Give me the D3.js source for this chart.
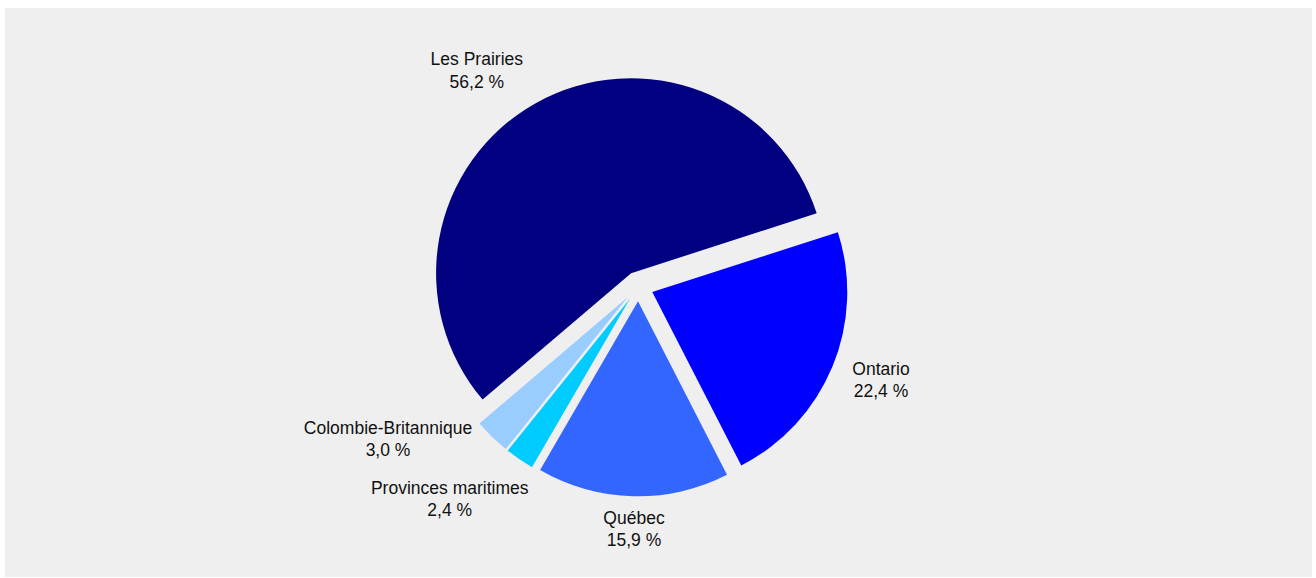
<!DOCTYPE html>
<html lang="fr">
<head>
    <meta charset="UTF-8">
    <title>Répartition par région</title>
    <script src="https://d3js.org/d3.v7.min.js"></script>
    <style>
        body { margin: 0; background: #ffffff; font-family: "Liberation Sans", Arial, sans-serif; }
        svg { display: block; }
        .label { font-size: 17.5px; fill: #111111; }
    </style>
</head>
<body>
    <div id="chart"></div>

    <script>
        // Data (clockwise order, starting with Les Prairies)
        const regions = ["Les Prairies", "Ontario", "Québec", "Provinces maritimes", "Colombie-Britannique"];
        const shares = [56.2, 22.4, 15.9, 2.4, 3.0];
        const shareLabels = ["56,2 %", "22,4 %", "15,9 %", "2,4 %", "3,0 %"];
        const colors = ["#000080", "#0000ff", "#3366ff", "#00ccff", "#99ccff"];

        // Layout
        const width = 1316, height = 578;
        const cx = 638.4, cy = 286.3;
        const radius = 195;
        const explode = 15;
        const startDeg = -130.4;

        // label anchors relative to the pie centre (centre x, first baseline)
        const labelOffsets = [
            [-161.6, -221.3],
            [242.6, 88.7],
            [-4.4, 237.7],
            [-188.7, 207.7],
            [-250.4, 147.7]
        ];

        const svg = d3.select("#chart")
            .append("svg")
            .attr("width", width)
            .attr("height", height);

        // grey plot area
        svg.append("rect")
            .attr("x", 5)
            .attr("y", 8)
            .attr("width", 1307)
            .attr("height", 569)
            .attr("fill", "#efefef");

        const data = regions.map((name, i) => ({
            name: name,
            value: shares[i],
            text: shareLabels[i],
            color: colors[i],
            offset: labelOffsets[i]
        }));

        const start = startDeg * Math.PI / 180;
        const pie = d3.pie()
            .sort(null)
            .value(d => d.value)
            .startAngle(start)
            .endAngle(start + 2 * Math.PI);

        const arc = d3.arc()
            .innerRadius(0)
            .outerRadius(radius);

        const g = svg.append("g")
            .attr("transform", `translate(${cx},${cy})`);

        // exploded slices
        g.selectAll("path")
            .data(pie(data))
            .enter()
            .append("path")
            .attr("d", arc)
            .attr("fill", d => d.data.color)
            .attr("transform", d => {
                const mid = (d.startAngle + d.endAngle) / 2;
                const dx = explode * Math.sin(mid);
                const dy = -explode * Math.cos(mid);
                return `translate(${dx},${dy})`;
            });

        // labels
        const labels = g.selectAll("text.label")
            .data(data)
            .enter()
            .append("text")
            .attr("class", "label")
            .attr("text-anchor", "middle");

        labels.append("tspan")
            .attr("x", d => d.offset[0])
            .attr("y", d => d.offset[1])
            .text(d => d.name);

        labels.append("tspan")
            .attr("x", d => d.offset[0])
            .attr("y", d => d.offset[1] + 22.5)
            .text(d => d.text);
    </script>
</body>
</html>
